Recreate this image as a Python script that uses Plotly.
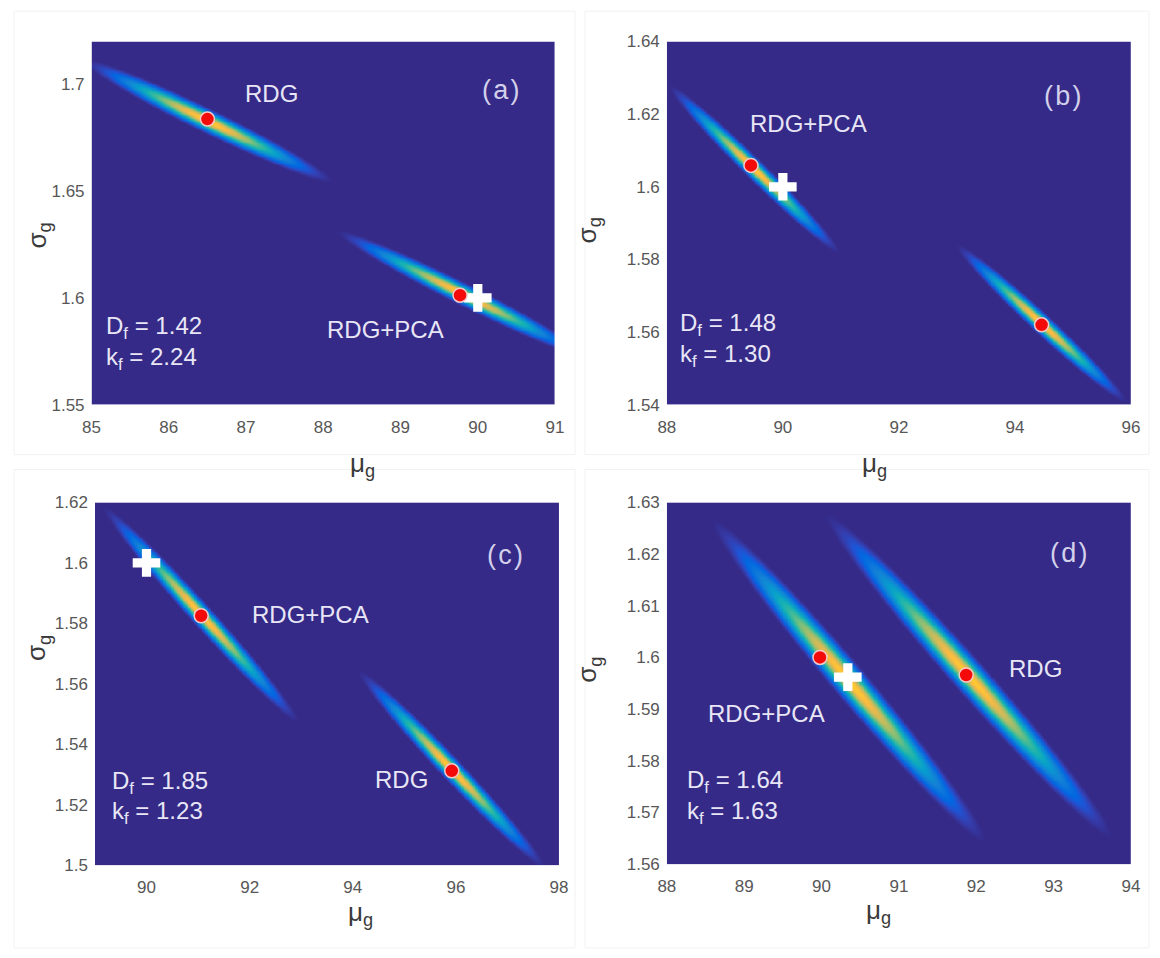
import numpy as np
import plotly.graph_objects as go

# ---------------- data ----------------
PANEL_TAGS = ["(a)", "(b)", "(c)", "(d)"]

MU_MIN = [85, 88, 89, 88]
MU_MAX = [91, 96, 98, 94]
SIG_MIN = [1.55, 1.54, 1.50, 1.56]
SIG_MAX = [1.72, 1.64, 1.62, 1.63]

MU_TICKS = [[85, 86, 87, 88, 89, 90, 91],
            [88, 90, 92, 94, 96],
            [90, 92, 94, 96, 98],
            [88, 89, 90, 91, 92, 93, 94]]
SIG_TICKS = [[1.55, 1.60, 1.65, 1.70],
             [1.54, 1.56, 1.58, 1.60, 1.62, 1.64],
             [1.50, 1.52, 1.54, 1.56, 1.58, 1.60, 1.62],
             [1.56, 1.57, 1.58, 1.59, 1.60, 1.61, 1.62, 1.63]]
SIG_TICK_TEXT = [["1.55", "1.6", "1.65", "1.7"],
                 ["1.54", "1.56", "1.58", "1.6", "1.62", "1.64"],
                 ["1.5", "1.52", "1.54", "1.56", "1.58", "1.6", "1.62"],
                 ["1.56", "1.57", "1.58", "1.59", "1.6", "1.61", "1.62", "1.63"]]

# likelihood ridges: centre and lower-right tip (mu, sigma), transverse spread
RDG_MU_C = [86.50, 94.45, 95.90, 91.90]
RDG_SIG_C = [1.6830, 1.5625, 1.5320, 1.5965]
RDG_MU_TIP = [88.04, 95.85, 97.62, 93.66]
RDG_SIG_TIP = [1.6560, 1.5418, 1.5010, 1.5667]
RDG_SPREAD = [12, 10, 11, 17]

PCA_MU_C = [89.80, 89.50, 91.05, 90.35]
PCA_SIG_C = [1.6020, 1.6050, 1.5830, 1.5955]
PCA_MU_TIP = [91.35, 90.90, 92.85, 92.03]
PCA_SIG_TIP = [1.5740, 1.5830, 1.5490, 1.5658]
PCA_SPREAD = [11, 10, 11, 17]

# estimates (red dots)
RDG_EST_MU = [86.50, 94.46, 95.92, 91.87]
RDG_EST_SIG = [1.6837, 1.5620, 1.5312, 1.5966]
PCA_EST_MU = [89.77, 89.45, 91.06, 89.98]
PCA_EST_SIG = [1.6013, 1.6059, 1.5825, 1.6000]

# true values (white crosses)
TRUE_MU = [90.0, 90.0, 90.0, 90.34]
TRUE_SIG = [1.600, 1.600, 1.600, 1.5962]

D_F = ["1.42", "1.48", "1.85", "1.64"]
K_F = ["2.24", "1.30", "1.23", "1.63"]

# ---------------- layout config ----------------
W, H = 1160, 958
OFF = 8                          # page body margin
SX = W / (W + 2 * OFF)           # page is shrunk to the window
SY = H / (H + 2 * OFF)


def fx(px):
    return (px / SX - OFF) / W


def fy(py):
    return 1 - (py / SY - OFF) / H


# plot areas in window pixels: left, right, top, bottom
BOX = [(90.6, 555, 40.5, 405), (667, 1132, 40.5, 405),
       (94, 559, 503, 867), (667, 1132, 503, 866)]
RDG_LBL = [(87.33, 1.6958), None, (94.94, 1.5282), (92.76, 1.5979)]
PCA_LBL = [(88.80, 1.5850), (90.44, 1.6175), (93.18, 1.5828), (89.29, 1.5892)]
TAG_POS = [(0.928, 0.912), (0.899, 0.896), (0.927, 0.901), (0.911, 0.906)]
DF_POS = [(0.027, 0.164, 0.079), (0.024, 0.172, 0.088),
          (0.032, 0.181, 0.097), (0.039, 0.181, 0.095)]
SIG_TITLE = [(18.5, 220), (588, 215), (18.5, 664), (589, 686)]
MU_TITLE = [(348, 465), (890, 465), (346, 934), (894, 932)]

PARULA_IDX = [0, 3, 6, 9, 15, 21, 27, 33, 37, 44, 50, 53, 57, 60, 63]
PARULA_RGB = [(0.2081, 0.1663, 0.5292), (0.2081, 0.2386, 0.6771), (0.1253, 0.3242, 0.8303),
              (0.0060, 0.4086, 0.8828), (0.0779, 0.5040, 0.8384), (0.0265, 0.6137, 0.8135),
              (0.0843, 0.6928, 0.7062), (0.2586, 0.7317, 0.5954), (0.4420, 0.7481, 0.5033),
              (0.7184, 0.7411, 0.3905), (0.9139, 0.7258, 0.3063), (0.9938, 0.7455, 0.2403),
              (0.9788, 0.8271, 0.1633), (0.9598, 0.9218, 0.0948), (0.9763, 0.9831, 0.0538)]
PARULA = [[i / 63, "rgb(%d,%d,%d)" % tuple(int(round(255 * c)) for c in rgb)]
          for i, rgb in zip(PARULA_IDX, PARULA_RGB)]

FONT = "Liberation Sans, Arial, sans-serif"
TXT = "#e8e6f6"

fig = go.Figure()


def ridge(MU, SG, k, mc, sc, mt, st, spread, pw, ph):
    sx = pw / (MU_MAX[k] - MU_MIN[k])
    sy = ph / (SIG_MAX[k] - SIG_MIN[k])
    px = (MU - mc) * sx
    py = (SG - sc) * sy
    ax, ay = (mt - mc) * sx, (st - sc) * sy
    L = np.hypot(ax, ay)
    ex, ey = ax / L, ay / L
    u = px * ex + py * ey
    v = -px * ey + py * ex
    su = L / 2.25
    sv = spread / 2.25
    return np.exp(-0.5 * ((u / su) ** 2 + (v / sv) ** 2))


for k in range(4):
    xa = "x" if k == 0 else "x%d" % (k + 1)
    ya = "y" if k == 0 else "y%d" % (k + 1)
    l, r, t, b = BOX[k]
    pw, ph = r - l, b - t
    mu = np.linspace(MU_MIN[k], MU_MAX[k], 300)
    sg = np.linspace(SIG_MIN[k], SIG_MAX[k], 260)
    MU, SG = np.meshgrid(mu, sg)
    z1 = ridge(MU, SG, k, RDG_MU_C[k], RDG_SIG_C[k], RDG_MU_TIP[k], RDG_SIG_TIP[k], RDG_SPREAD[k], pw, ph)
    z2 = ridge(MU, SG, k, PCA_MU_C[k], PCA_SIG_C[k], PCA_MU_TIP[k], PCA_SIG_TIP[k], PCA_SPREAD[k], pw, ph)
    z = np.round(np.maximum(z1, z2), 3)
    fig.add_trace(go.Heatmap(x=mu, y=sg, z=z, colorscale=PARULA, zmin=0.06, zmax=1.12,
                             zsmooth="best", showscale=False, hoverinfo="skip",
                             xaxis=xa, yaxis=ya))
    fig.add_trace(go.Scatter(x=[TRUE_MU[k]], y=[TRUE_SIG[k]], mode="markers",
                             marker=dict(symbol="cross", size=23, color="white", line=dict(width=0)),
                             xaxis=xa, yaxis=ya, showlegend=False))
    fig.add_trace(go.Scatter(x=[RDG_EST_MU[k], PCA_EST_MU[k]], y=[RDG_EST_SIG[k], PCA_EST_SIG[k]],
                             mode="markers",
                             marker=dict(symbol="circle", size=14, color="#f50a0a",
                                         line=dict(width=1.5, color="#f4c8c8")),
                             xaxis=xa, yaxis=ya, showlegend=False))

    axis_common = dict(showgrid=False, zeroline=False, showline=False, ticks="",
                       tickfont=dict(family=FONT, size=17, color="#575757"), fixedrange=True)
    fig.layout[("xaxis" if k == 0 else "xaxis%d" % (k + 1))] = dict(
        axis_common, domain=[fx(l), fx(r)], range=[MU_MIN[k], MU_MAX[k]], anchor=ya,
        tickvals=MU_TICKS[k], ticktext=[str(v) for v in MU_TICKS[k]], ticklabelstandoff=10)
    fig.layout[("yaxis" if k == 0 else "yaxis%d" % (k + 1))] = dict(
        axis_common, domain=[fy(b), fy(t)], range=[SIG_MIN[k], SIG_MAX[k]], anchor=xa,
        tickvals=SIG_TICKS[k], ticktext=SIG_TICK_TEXT[k], ticklabelstandoff=6)

    ann = []
    if RDG_LBL[k]:
        ann.append(dict(x=RDG_LBL[k][0], y=RDG_LBL[k][1], xref=xa, yref=ya, text="RDG"))
    ann.append(dict(x=PCA_LBL[k][0], y=PCA_LBL[k][1], xref=xa, yref=ya, text="RDG+PCA"))
    for a in ann:
        a.update(showarrow=False, font=dict(family=FONT, size=24, color=TXT))
        fig.add_annotation(**a)
    fig.add_annotation(x=TAG_POS[k][0], y=TAG_POS[k][1], xref=xa + " domain", yref=ya + " domain",
                       text=PANEL_TAGS[k].replace("(", "(\u200a").replace(")", "\u200a)"),
                       showarrow=False, font=dict(family=FONT, size=27, color="#d2d0ea"))
    dx, dy1, dy2 = DF_POS[k]
    fig.add_annotation(x=dx, y=dy1, xref=xa + " domain", yref=ya + " domain", xanchor="left",
                       text="D<sub>f</sub> = " + D_F[k], showarrow=False,
                       font=dict(family=FONT, size=24, color=TXT))
    fig.add_annotation(x=dx, y=dy2, xref=xa + " domain", yref=ya + " domain", xanchor="left",
                       text="k<sub>f</sub> = " + K_F[k], showarrow=False,
                       font=dict(family=FONT, size=24, color=TXT))
    sx, sy = SIG_TITLE[k]
    fig.add_annotation(x=fx(sx), y=fy(sy), xref="paper", yref="paper", textangle=-90,
                       text="σ<sub>g</sub>", showarrow=False,
                       font=dict(family=FONT, size=26, color="#3a3a3a"))
    mx, my = MU_TITLE[k]
    fig.add_annotation(x=fx(mx), y=fy(my), xref="paper", yref="paper",
                       text="μ<sub>g</sub>", showarrow=False,
                       font=dict(family=FONT, size=26, color="#3a3a3a"))

# faint panel frames
for (x0, y0, x1, y1) in [(13, 10, 575, 455), (585, 10, 1150, 455),
                         (13, 470, 575, 950), (585, 470, 1150, 950)]:
    fig.add_shape(type="rect", xref="paper", yref="paper", x0=fx(x0), x1=fx(x1),
                  y0=fy(y1), y1=fy(y0), line=dict(color="#f2f2f2", width=1), layer="below")

fig.update_layout(width=W, height=H, margin=dict(l=0, r=0, t=0, b=0), autosize=False,
                  paper_bgcolor="white", plot_bgcolor="white", showlegend=False,
                  font=dict(family=FONT))

fig.write_html("out.html")
